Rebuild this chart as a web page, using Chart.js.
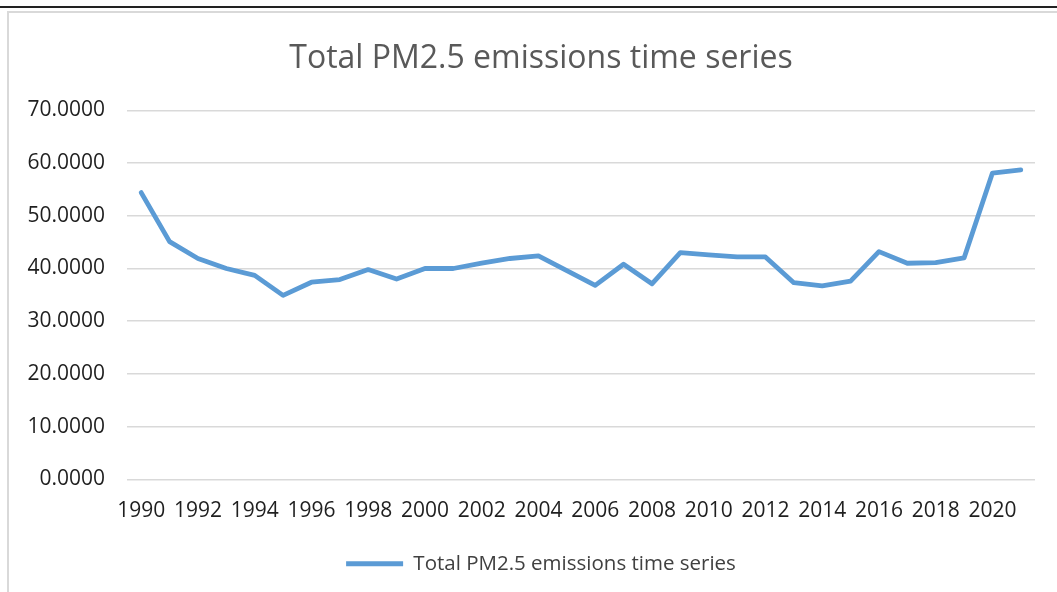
<!DOCTYPE html>
<html lang="en">
<head>
<meta charset="UTF-8">
<title>Total PM2.5 emissions time series</title>
<script src="https://cdn.jsdelivr.net/npm/chart.js"></script>
<style>
  html, body { margin:0; padding:0; background:#fff; overflow:hidden; }
  body { width:1057px; height:592px; position:relative; font-family:"Open Sans", sans-serif; }
  .topline { position:absolute; left:0; top:6px; width:1057px; height:0; border-top:2px solid #222; }
  .frame { position:absolute; left:7px; top:11px; width:1100px; height:640px; border:2.5px solid #d9d9d9; box-sizing:border-box; }
  #wrap { position:absolute; left:0; top:0; width:1057px; height:592px; }
</style>
</head>
<body>
<div class="topline"></div>
<div class="frame"></div>
<div id="wrap"><canvas id="chart"></canvas></div>

<script>
/* ==== data ==== */
const years = [1990,1991,1992,1993,1994,1995,1996,1997,1998,1999,2000,2001,2002,2003,2004,2005,
               2006,2007,2008,2009,2010,2011,2012,2013,2014,2015,2016,2017,2018,2019,2020,2021];
const pm25  = [54.4,45.1,41.9,40.0,38.7,34.9,37.4,37.9,39.8,38.0,40.0,40.0,41.0,41.9,42.4,39.6,
               36.8,40.8,37.1,43.0,42.6,42.2,42.2,37.3,36.7,37.6,43.2,41.0,41.1,42.0,58.1,58.7];
const yTicks = [0,10,20,30,40,50,60,70];
const seriesName = 'Total PM2.5 emissions time series';

const blue = '#5b9bd5';
Chart.defaults.font.family = '"Open Sans", sans-serif';

// y labels stick out past the left layout padding; widen the axis box so they aren't clipped
const unclipY = {
  id: 'unclipY',
  afterLayout(chart) { chart.scales.y.left = 0; }
};

new Chart(document.getElementById('chart'), {
  type: 'line',
  data: {
    labels: years.map(String),
    datasets: [{
      label: seriesName,
      data: pm25,
      borderColor: blue,
      backgroundColor: blue,
      borderWidth: 4.8,
      pointRadius: 0,
      tension: 0,
      borderJoinStyle: 'round',
      borderCapStyle: 'round'
    }]
  },
  plugins: [unclipY],
  options: {
    responsive: true,
    maintainAspectRatio: false,
    animation: false,
    // left/right padding chosen so title + legend centre near x=541
    layout: { padding: { left: 47, right: 22, top: 0, bottom: 8 } },
    plugins: {
      title: {
        display: true,
        text: seriesName,
        color: '#595959',
        font: { size: 32, weight: 'normal' },
        padding: { top: 40, bottom: 32 }
      },
      legend: {
        position: 'bottom',
        labels: {
          color: '#404040',
          font: { size: 20.5 },
          boxWidth: 57,
          boxHeight: 5,
          useBorderRadius: true,
          borderRadius: 2.5,
          padding: 11,
          generateLabels: chart => [{
            text: seriesName,
            fillStyle: blue,
            strokeStyle: blue,
            lineWidth: 0,
            fontColor: '#404040',
            datasetIndex: 0
          }]
        }
      },
      tooltip: { enabled: false }
    },
    scales: {
      x: {
        offset: true,
        grid: { display: false, drawTicks: false },
        border: { display: false },
        ticks: {
          autoSkip: false,
          maxRotation: 0,
          color: '#1f1f1f',
          font: { size: 21 },
          padding: 19,
          callback: function(v, i) { return i % 2 === 0 ? this.getLabelForValue(v) : ''; }
        }
      },
      y: {
        min: 0, max: 70,
        afterFit: s => { s.width = 80; },
        afterBuildTicks: s => { s.ticks = yTicks.map(v => ({ value: v })); },
        grid: { color: '#d9d9d9', lineWidth: 1.5, drawTicks: false },
        border: { display: false },
        ticks: {
          color: '#1f1f1f',
          font: { size: 21 },
          padding: 22,
          callback: v => v.toFixed(4)
        }
      }
    }
  }
});
</script>
</body>
</html>
